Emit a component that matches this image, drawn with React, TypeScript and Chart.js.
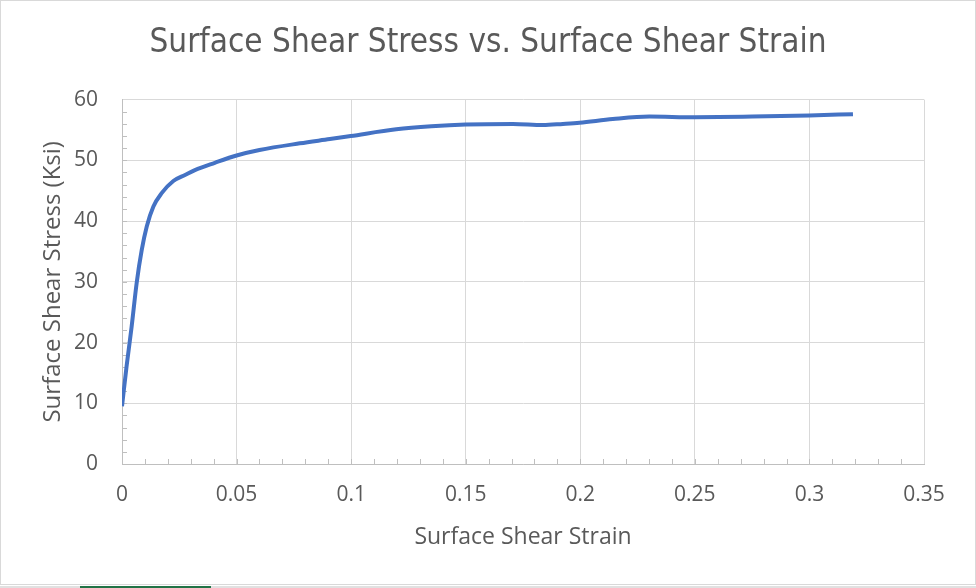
import React, { useEffect, useRef } from "react";
import { Chart, registerables } from "chart.js";

Chart.register(...registerables);

const strain = [0, 0.002, 0.0042, 0.0064, 0.0086, 0.0108, 0.0137, 0.0173, 0.0224, 0.0275, 0.0318, 0.0405, 0.05, 0.06, 0.0776, 0.0907, 0.0998, 0.1197, 0.135, 0.15, 0.1706, 0.1837, 0.1924, 0.1997, 0.2142, 0.2302, 0.25, 0.275, 0.3, 0.319];
const stress = [9.5, 16.1, 22.6, 29.8, 35.2, 39.1, 42.4, 44.6, 46.6, 47.6, 48.4, 49.6, 50.8, 51.7, 52.8, 53.5, 54.0, 55.1, 55.6, 55.9, 56.0, 55.8, 56.0, 56.2, 56.8, 57.2, 57.1, 57.2, 57.4, 57.6];

const xMin = 0, xMax = 0.35, xStep = 0.05, xMinorStep = 0.01;
const yMin = 0, yMax = 60, yStep = 10, yMinorStep = 2;

const chartTitle = "Surface Shear Stress vs. Surface Shear Strain";
const xTitle = "Surface Shear Strain";
const yTitle = "Surface Shear Stress (Ksi)";

const TEXT = "#595959";
const BODY_FONT = '"Open Sans", "Liberation Sans", sans-serif';
const TITLE_FONT = '"Liberation Sans Narrow", "DejaVu Sans Condensed", "Open Sans", sans-serif';

const minorTicks = {
  id: "minorTicks",
  beforeDatasetsDraw(chart: any) {
    const ctx = chart.ctx;
    const xs = chart.scales.x;
    const ys = chart.scales.y;
    const area = chart.chartArea;
    ctx.save();
    ctx.strokeStyle = "#bfbfbf";
    ctx.lineWidth = 1;
    ctx.beginPath();
    const nx = Math.round((xMax - xMin) / xMinorStep);
    for (let i = 1; i < nx; i++) {
      const px = Math.round(xs.getPixelForValue(xMin + i * xMinorStep)) + 0.5;
      ctx.moveTo(px, area.bottom);
      ctx.lineTo(px, area.bottom - 5);
    }
    const ny = Math.round((yMax - yMin) / yMinorStep);
    for (let i = 1; i < ny; i++) {
      const py = Math.round(ys.getPixelForValue(yMin + i * yMinorStep)) + 0.5;
      ctx.moveTo(area.left, py);
      ctx.lineTo(area.left + 5, py);
    }
    ctx.stroke();
    ctx.restore();
  },
  afterDraw(chart: any) {
    const ctx = chart.ctx;
    const w = chart.width;
    const h = chart.height;
    ctx.save();
    ctx.strokeStyle = "#d9d9d9";
    ctx.lineWidth = 1;
    ctx.strokeRect(0.5, 0.5, w - 1, h - 4);
    ctx.fillStyle = "#e1e1e1";
    ctx.fillRect(0, h - 2, w, 2);
    ctx.fillStyle = "#217346";
    ctx.fillRect(80, h - 2, 131, 2);
    ctx.restore();
  },
};

export default function App() {
  const ref = useRef<HTMLCanvasElement | null>(null);
  useEffect(() => {
    if (!ref.current) return;
    const chart = new Chart(ref.current, {
      type: "scatter",
      data: {
        datasets: [
          {
            data: strain.map((x, i) => ({ x, y: stress[i] })),
            showLine: true,
            borderColor: "#4472C4",
            backgroundColor: "#4472C4",
            borderWidth: 4,
            pointRadius: 0,
            cubicInterpolationMode: "monotone",
            fill: false,
          },
        ],
      },
      options: {
        responsive: false,
        animation: false,
        layout: { padding: { left: 26, right: 26, top: 0, bottom: 0 } },
        plugins: {
          legend: { display: false },
          tooltip: { enabled: false },
          title: {
            display: true,
            text: chartTitle,
            color: TEXT,
            font: { family: TITLE_FONT, size: 33, weight: "normal" },
            padding: { top: 24, bottom: 36 },
          },
        },
        scales: {
          x: {
            type: "linear",
            min: xMin,
            max: xMax,
            afterFit(scale: any) {
              scale.height = 124;
            },
            grid: { color: "#d9d9d9", lineWidth: 1, drawTicks: false },
            border: { color: "#bfbfbf", width: 1 },
            ticks: {
              stepSize: xStep,
              padding: 18,
              color: TEXT,
              font: { family: BODY_FONT, size: 21 },
              callback: (v: any) => String(Number(Number(v).toFixed(2))),
            },
            title: {
              display: true,
              text: xTitle,
              color: TEXT,
              font: { family: BODY_FONT, size: 23 },
              padding: { top: 0, bottom: 37 },
            },
          },
          y: {
            type: "linear",
            min: yMin,
            max: yMax,
            afterFit(scale: any) {
              scale.width = 96;
            },
            grid: { color: "#d9d9d9", lineWidth: 1, drawTicks: false },
            border: { color: "#bfbfbf", width: 1 },
            ticks: {
              stepSize: yStep,
              padding: 24,
              color: TEXT,
              font: { family: BODY_FONT, size: 21 },
            },
            title: {
              display: true,
              text: yTitle,
              color: TEXT,
              font: { family: BODY_FONT, size: 24 },
              padding: { top: 13, bottom: 0 },
            },
          },
          spacer: {
            type: "linear",
            position: "right",
            min: 0,
            max: 1,
            afterFit(scale: any) {
              scale.width = 26;
            },
            grid: { display: false, drawTicks: false },
            border: { display: false },
            ticks: { display: false },
          },
        },
      },
      plugins: [minorTicks],
    } as any);
    return () => chart.destroy();
  }, []);
  return (
    <div style={{ position: "fixed", left: 0, top: 0, width: 976, height: 588, background: "#fff" }}>
      <canvas ref={ref} width={976} height={588} style={{ display: "block" }} />
    </div>
  );
}
